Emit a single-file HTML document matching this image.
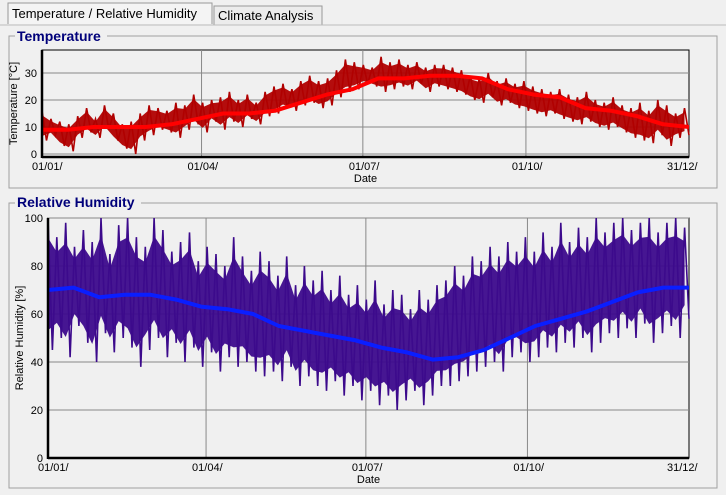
<!DOCTYPE html>
<html><head><meta charset="utf-8"><style>
body{margin:0;background:#f0f0f0;font-family:"Liberation Sans",sans-serif}
svg{display:block}
text{font-family:"Liberation Sans",sans-serif}
</style></head><body>
<svg id="c" width="726" height="495" viewBox="0 0 726 495">
<rect x="0" y="0" width="726" height="495" fill="#f0f0f0"/>
<g>
<path d="M8 24V3H212V24" fill="#f4f4f4" stroke="#999"/>
<text x="12" y="18" font-size="13" fill="#000">Temperature / Relative Humidity</text></g>
<g>
<path d="M214 25V6H322V25" fill="#ececec" stroke="#999"/>
<text x="218" y="20" font-size="13" fill="#000">Climate Analysis</text></g>
<line x1="0" y1="25" x2="726" y2="25" stroke="#bbb"/>
<rect x="9" y="36" width="708" height="152" fill="none" stroke="#a0a0a0"/>
<rect x="15" y="28" width="92" height="16" fill="#f0f0f0"/>
<text x="17" y="41" font-size="14" font-weight="bold" fill="#00007a">Temperature</text>
<rect x="9" y="203" width="708" height="285" fill="none" stroke="#a0a0a0"/>
<rect x="15" y="195" width="126" height="16" fill="#f0f0f0"/>
<text x="17" y="207" font-size="14" font-weight="bold" fill="#00007a">Relative Humidity</text>
<g id="g1"></g><g id="g2"></g>
</svg>
<script>
const xTicks=["01/01/","01/04/","01/07/","01/10/","31/12/"];
const xTickDays=[0,90,181,273,365];
const tempTicks=[0,10,20,30];
const humTicks=[0,20,40,60,80,100];
const tempMean=[9,9,10,10,10,11,13,15,15,16,19,22,24,28,28,29,29,28,24,22,21,17,16,14,11,10];
const humMean=[70,71,67,68,68,66,63,62,60,55,53,51,49,46,44,41,42,45,50,55,58,61,65,69,71,71];
const tempRaw=[16,5,13,7,12,3,11,1,14,6,17,8,13,6,18,9,15,5,11,2,12,0,15,5,18,7,17,9,16,8,19,6,18,9,22,11,19,8,20,12,21,9,23,12,20,10,22,13,19,11,23,14,25,15,26,17,24,16,27,18,29,19,27,17,28,18,31,21,35,23,34,24,33,26,32,25,36,23,34,24,35,25,33,24,34,26,32,23,33,25,33,24,32,23,31,22,29,20,28,19,30,21,27,18,28,19,26,17,27,16,25,15,24,14,23,15,24,13,22,12,21,11,23,12,20,10,19,9,21,10,18,8,17,6,19,5,16,4,20,7,18,3,15,6,17,7];
const humRaw=[100,45,92,50,98,42,88,55,95,48,90,40,100,52,85,44,97,50,100,46,92,38,88,45,100,50,95,42,86,48,90,40,94,46,82,38,88,44,85,36,80,42,92,38,84,40,78,36,86,34,82,36,76,32,84,38,72,30,80,34,74,30,78,28,70,32,76,26,68,30,72,24,66,28,74,22,64,26,70,20,68,24,62,28,70,22,66,26,72,30,74,30,80,32,76,34,84,36,82,38,88,40,84,36,90,42,86,44,92,40,86,42,94,46,88,44,98,48,90,46,96,50,92,44,100,48,94,52,98,50,100,54,95,50,98,56,100,48,94,52,98,55,100,50,96,58];
const NS="http://www.w3.org/2000/svg";
function mk(p,t,a){const e=document.createElementNS(NS,t);for(const k in a)e.setAttribute(k,a[k]);p.appendChild(e);return e;}
function chart(g,o){
 const X=d=>o.l+(o.r-o.l)*d/365, Y=v=>o.y0+(v-o.vmin)*(o.y1-o.y0)/(o.vmax-o.vmin);
 mk(g,'rect',{x:o.l,y:o.t,width:o.r-o.l,height:o.b-o.t,fill:'#f0f0f0',stroke:'#000','stroke-width':1});
 o.ticks.forEach(v=>{const y=Y(v);
  const ln=mk(g,'line',{x1:o.l,x2:o.r,y1:y,y2:y,stroke:'#888','stroke-width':1});
  
  const t=mk(g,'text',{x:o.l-5,y:y+4,'font-size':11,'text-anchor':'end',fill:'#000'});t.textContent=v;
  });
 xTicks.forEach((s,i)=>{const x=X(xTickDays[i]);
  if(i>0&&i<4){const ln=mk(g,'line',{x1:x,x2:x,y1:o.t,y2:o.b,stroke:'#888'});
   }
  const t=mk(g,'text',{x:i==4?x-22:(i==0?x-10:x-14),y:o.b+13,'font-size':11,fill:'#000'});t.textContent=s;
  });
 const n=o.raw.length, px=i=>X(i*365/(n-1));
 let up='',dn='';
 for(let i=0;i<n;i+=2){const hi=o.raw[i],lo=o.raw[Math.min(i+1,n-1)],mid=(hi+lo)/2;
  up+=(i?'L':'M')+px(i).toFixed(1)+' '+Y(mid+(hi-mid)*0.7).toFixed(1);
  dn=' L'+px(i).toFixed(1)+' '+Y(mid-(mid-lo)*0.7).toFixed(1)+dn;}
 const band=mk(g,'path',{d:up+dn+'Z',fill:o.rawC,'fill-opacity':0.95,stroke:'none'});
 
 let d='';o.raw.forEach((v,i)=>{d+=(i?'L':'M')+px(i).toFixed(1)+' '+Y(v).toFixed(1);});
 const p=mk(g,'path',{d:d,fill:'none',stroke:o.rawC,'stroke-width':1.6});
 
 d='';o.mean.forEach((v,i)=>{d+=(i?'L':'M')+X(i*365/(o.mean.length-1)).toFixed(1)+' '+Y(v).toFixed(1);});
 const m=mk(g,'path',{d:d,fill:'none',stroke:o.meanC,'stroke-width':4,'stroke-linejoin':'round'});
 
 mk(g,'line',{x1:o.l,x2:o.l,y1:o.t,y2:o.b+1,stroke:'#000','stroke-width':2.5});
 mk(g,'line',{x1:o.l,x2:o.r,y1:o.b,y2:o.b,stroke:'#000','stroke-width':2.5});
 const dt=mk(g,'text',{x:(o.l+o.r)/2,y:o.b+25,'font-size':11,'text-anchor':'middle'});dt.textContent='Date';
 
 const yt=mk(g,'text',{x:0,y:0,'font-size':11,'text-anchor':'middle',transform:`translate(${o.l-25},${(o.t+o.b)/2}) rotate(-90)`});yt.textContent=o.ytitle;
 
}
const g1=document.getElementById('g1'),g2=document.getElementById('g2');


chart(g1,{l:42,r:689,t:50,b:157,y0:154,y1:127,vmin:0,vmax:10,ticks:tempTicks,raw:tempRaw,mean:tempMean,rawC:'#b00000',meanC:'#ff0000',name:'temperature',ytitle:'Temperature [°C]'});
chart(g2,{l:48,r:689,t:218,b:458,y0:458,y1:218,vmin:0,vmax:100,ticks:humTicks,raw:humRaw,mean:humMean,rawC:'#3c0a8c',meanC:'#0a1eff',name:'humidity',ytitle:'Relative Humidity [%]'});
</script>
</body></html>
